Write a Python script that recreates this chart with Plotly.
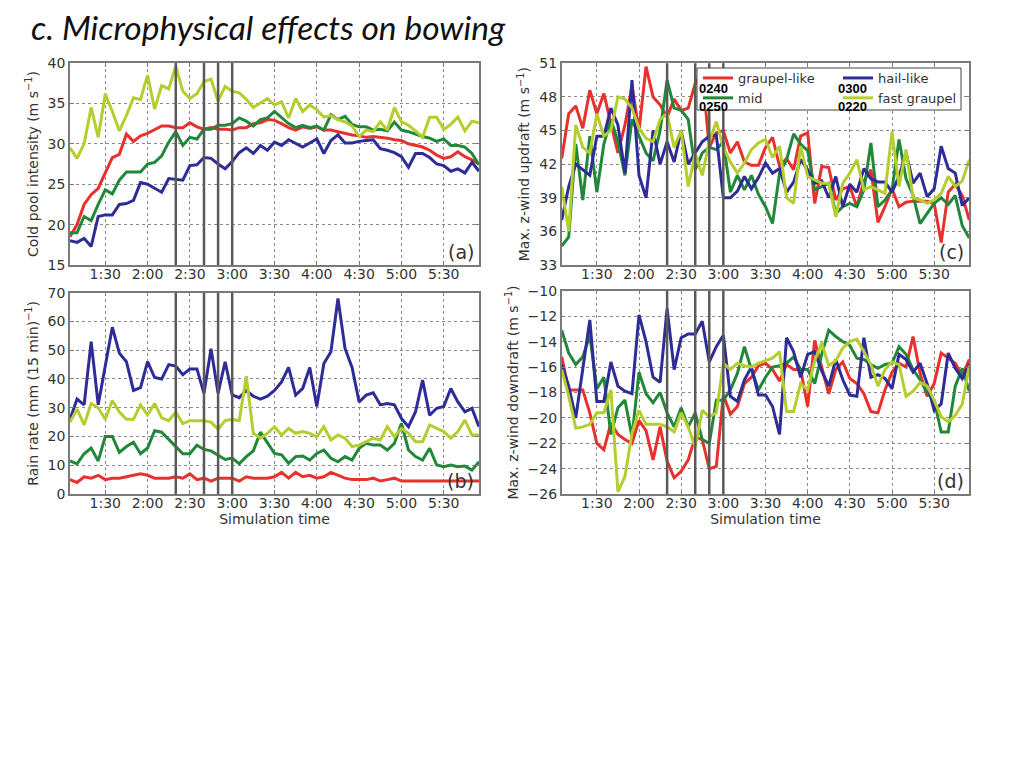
import plotly.graph_objects as go

# ---------------- data ----------------
times = list(range(65, 360, 5))  # simulation minutes, 1:05 .. 5:55
tick_vals = [90, 120, 150, 180, 210, 240, 270, 300, 330]
tick_text = ["1:30", "2:00", "2:30", "3:00", "3:30", "4:00", "4:30", "5:00", "5:30"]
marker_times = [140, 160, 170, 180]  # 0220, 0240, 0250, 0300
series_names = ["graupel-like", "mid", "hail-like", "fast graupel"]

# (a) cold pool intensity
a_red = [18.5, 20.0, 22.5, 23.7, 24.5, 26.5, 28.3, 28.7, 31.2, 30.3,
         31.0, 31.3, 31.8, 32.2, 32.2, 32.0, 32.0, 32.6, 32.1, 31.8,
         32.0, 31.8, 31.8, 31.7, 32.0, 32.0, 32.5, 32.6, 33.0, 32.9,
         32.5, 32.0, 31.7, 32.1, 31.9, 32.1, 31.7, 31.7, 31.5, 31.3,
         31.1, 31.0, 30.8, 30.9, 30.8, 30.7, 30.5, 30.4, 30.0, 29.8,
         29.6, 29.2, 28.6, 28.2, 28.4, 29.0, 28.4, 28.0, 27.5]
a_green = [19.0, 19.0, 21.0, 20.5, 22.5, 24.3, 23.8, 25.5, 26.5, 26.5,
           26.5, 27.5, 27.7, 28.5, 30.2, 31.5, 29.8, 30.8, 30.6, 31.8,
           31.8, 32.3, 32.3, 32.5, 33.2, 32.8, 32.2, 33.0, 33.2, 34.0,
           33.2, 32.5, 32.0, 32.3, 32.0, 32.2, 31.7, 33.6, 33.0, 33.4,
           32.4, 32.1, 32.1, 31.7, 31.8, 31.6, 32.7, 31.7, 31.5, 31.2,
           30.9, 30.7, 30.3, 30.6, 29.8, 29.8, 29.6, 28.8, 27.4]
a_blue = [18.0, 17.8, 18.3, 17.3, 21.0, 21.2, 21.2, 22.5, 22.6, 23.0,
          25.2, 25.0, 24.5, 24.0, 25.7, 25.6, 25.5, 27.3, 27.4, 28.3,
          28.2, 27.5, 26.9, 27.8, 28.9, 29.5, 28.8, 29.8, 29.2, 30.2,
          29.8, 30.5, 30.1, 29.6, 30.1, 30.6, 28.8, 30.4, 31.1, 30.1,
          30.1, 30.3, 30.4, 30.5, 29.4, 29.2, 28.9, 28.4, 27.1, 28.8,
          28.8, 28.3, 27.5, 27.3, 26.6, 26.9, 26.4, 27.7, 26.6]
a_yellow = [29.5, 28.2, 30.0, 34.5, 30.8, 36.2, 34.0, 31.6, 33.5, 35.7,
            35.5, 38.5, 34.3, 37.2, 36.8, 39.6, 36.5, 35.6, 36.2, 37.7,
            38.0, 35.3, 37.1, 36.5, 36.3, 35.5, 34.5, 35.0, 35.6, 34.8,
            35.2, 33.2, 35.6, 34.0, 34.8, 34.2, 33.3, 33.5, 33.0, 32.7,
            32.2, 30.9, 31.7, 31.5, 32.7, 31.7, 34.5, 32.7, 32.3, 31.6,
            30.8, 33.3, 33.3, 31.8, 32.4, 33.3, 31.6, 32.8, 32.6]

# (b) rain rate
b_red = [5.0, 4.0, 6.0, 5.5, 6.5, 5.0, 5.5, 5.5, 6.0, 6.5,
         7.0, 6.5, 5.5, 5.5, 5.5, 6.0, 5.5, 7.0, 5.0, 5.5,
         4.5, 5.5, 5.5, 5.5, 4.5, 6.0, 5.5, 5.5, 5.5, 6.0,
         7.5, 5.5, 7.5, 6.0, 6.5, 5.5, 6.0, 7.5, 6.5, 5.5,
         5.0, 5.0, 5.0, 5.5, 4.5, 5.0, 5.5, 4.5, 4.5, 4.5,
         4.5, 4.5, 4.5, 4.5, 4.5, 4.5, 4.5, 4.5, 4.5]
b_green = [11.5, 10.5, 14.0, 16.0, 11.5, 20.0, 20.0, 14.5, 16.5, 18.0,
           14.0, 16.0, 22.0, 21.5, 19.0, 16.5, 14.0, 14.0, 17.0, 15.5,
           15.0, 13.5, 12.0, 12.5, 10.5, 13.0, 15.0, 21.5, 17.6, 14.1,
           13.6, 10.7, 13.0, 13.2, 11.8, 14.1, 15.3, 12.4, 11.2, 13.0,
           11.8, 15.9, 17.6, 17.0, 17.0, 15.3, 17.6, 24.6, 15.3, 13.0,
           11.8, 15.9, 10.1, 9.5, 10.1, 9.5, 9.7, 8.3, 11.2]
b_blue = [26.0, 33.0, 31.0, 53.0, 31.0, 45.0, 58.0, 49.0, 46.0, 36.0,
          37.0, 46.0, 40.5, 40.0, 45.0, 44.5, 41.5, 43.5, 43.5, 35.0,
          50.5, 35.0, 46.0, 34.5, 33.5, 36.0, 34.0, 33.0, 34.0, 36.0,
          39.0, 44.0, 34.4, 36.7, 44.0, 30.4, 45.4, 49.5, 68.0, 50.6,
          44.0, 32.0, 34.4, 35.2, 31.0, 31.5, 31.0, 26.3, 23.4, 28.6,
          39.6, 27.4, 29.8, 30.4, 36.7, 32.0, 28.6, 29.8, 23.4]
b_yellow = [25.0, 29.5, 24.0, 31.5, 30.0, 26.0, 32.5, 28.5, 26.0, 26.0,
            31.0, 27.5, 31.5, 26.5, 25.5, 28.5, 24.5, 25.5, 25.5, 25.5,
            25.0, 22.5, 25.5, 26.0, 25.5, 41.0, 21.1, 19.4, 21.1, 23.4,
            20.5, 22.8, 21.1, 21.7, 21.1, 19.9, 23.4, 18.8, 20.5, 19.4,
            16.5, 17.0, 18.2, 19.4, 18.8, 23.4, 19.9, 22.8, 21.1, 18.2,
            18.2, 24.0, 22.8, 21.7, 19.4, 21.7, 25.7, 20.5, 20.5]

# (c) max updraft
c_red = [42.5, 46.5, 47.2, 45.2, 48.6, 46.5, 48.3, 45.5, 43.0, 45.5,
         49.0, 45.0, 50.7, 48.0, 47.3, 46.2, 47.8, 46.8, 47.0, 49.2,
         50.2, 43.5, 44.8, 45.0, 43.0, 44.0, 42.2, 41.9, 41.9, 43.5,
         44.4, 41.8, 42.5, 41.5, 44.5, 44.8, 38.5, 41.8, 41.7, 38.8,
         39.8, 40.0, 38.2, 40.5, 41.5, 36.8, 38.2, 39.8, 38.2, 38.6,
         38.7, 38.7, 38.7, 38.5, 35.0, 39.5, 40.2, 39.2, 37.0]
c_green = [34.7, 35.5, 43.8, 38.8, 44.5, 39.5, 43.8, 46.0, 44.0, 41.0,
           46.0, 44.5, 43.0, 42.3, 45.0, 49.5, 47.0, 46.8, 46.0, 41.5,
           43.0, 43.5, 43.3, 44.0, 39.5, 41.0, 39.7, 41.0, 39.3, 38.2,
           36.7, 41.2, 42.4, 44.7, 43.8, 43.2, 39.7, 40.0, 40.3, 37.6,
           38.2, 38.5, 38.2, 39.7, 43.9, 38.2, 38.8, 39.7, 44.2, 40.7,
           39.2, 36.7, 37.6, 38.5, 39.0, 38.4, 39.2, 36.5, 35.4]
c_blue = [37.0, 40.0, 42.0, 41.5, 41.0, 44.5, 44.5, 47.0, 45.5, 41.2,
          49.5, 41.0, 39.0, 45.0, 42.0, 44.0, 42.2, 45.0, 42.0, 43.0,
          44.0, 44.5, 44.6, 39.0, 39.0, 39.6, 40.9, 39.8, 40.8, 42.1,
          41.2, 41.6, 39.5, 40.4, 42.4, 41.5, 40.3, 40.5, 39.0, 40.9,
          38.2, 40.2, 39.5, 41.6, 40.7, 40.4, 40.4, 39.5, 40.9, 43.0,
          40.3, 41.2, 39.1, 39.8, 43.6, 41.6, 41.2, 38.3, 39.0]
c_yellow = [40.0, 36.0, 45.5, 43.5, 43.0, 46.5, 44.5, 45.0, 48.0, 47.8,
            47.0, 45.2, 44.3, 44.0, 46.0, 46.5, 43.5, 45.0, 40.0, 43.0,
            41.0, 44.0, 45.8, 43.5, 42.2, 41.2, 42.1, 43.3, 43.9, 44.2,
            42.6, 43.6, 39.0, 38.5, 43.6, 40.9, 40.6, 40.3, 40.3, 37.3,
            40.3, 41.2, 42.4, 39.7, 40.0, 39.7, 39.4, 44.9, 40.0, 43.3,
            39.0, 38.8, 38.5, 38.8, 39.4, 40.9, 40.0, 40.5, 42.4]

# (d) max downdraft
d_red = [-15.2, -17.8, -17.8, -17.8, -19.6, -22.0, -22.5, -20.4, -21.3, -21.7,
         -22.0, -20.2, -21.0, -23.3, -20.7, -23.4, -24.7, -24.2, -23.3, -21.5,
         -21.7, -24.0, -23.8, -18.2, -19.7, -19.1, -17.3, -16.8, -15.9, -15.7,
         -16.2, -17.1, -15.8, -16.2, -16.2, -19.1, -13.9, -16.0, -18.1, -16.2,
         -15.6, -16.9, -17.3, -18.1, -19.5, -19.6, -17.8, -16.4, -15.7, -16.0,
         -13.6, -16.5, -18.3, -17.3, -14.9, -15.3, -15.7, -16.7, -15.4]
d_green = [-13.1, -14.9, -15.8, -15.2, -13.5, -17.7, -16.8, -21.3, -19.2, -18.6,
           -21.5, -16.4, -18.1, -18.8, -18.0, -19.6, -20.7, -19.2, -20.7, -19.6,
           -21.7, -22.0, -18.6, -18.6, -17.8, -16.5, -14.4, -16.2, -17.8, -16.8,
           -16.0, -15.9, -15.7, -15.2, -16.2, -16.2, -17.3, -15.0, -13.1, -13.6,
           -14.0, -14.3, -15.3, -15.4, -15.8, -16.1, -15.8, -15.7, -14.4, -15.0,
           -16.2, -17.0, -18.0, -18.6, -21.1, -21.1, -17.5, -16.1, -17.9]
d_blue = [-15.8, -17.5, -20.0, -16.0, -12.3, -18.7, -18.7, -15.6, -17.5, -17.9,
          -18.1, -11.9, -14.0, -16.8, -17.2, -11.4, -16.2, -13.7, -13.4, -13.4,
          -12.4, -15.6, -14.4, -13.5, -18.3, -18.7, -17.0, -16.0, -18.2, -18.2,
          -19.1, -21.3, -13.7, -14.8, -16.8, -15.0, -14.8, -16.3, -17.5, -15.4,
          -17.0, -18.2, -18.3, -13.7, -16.8, -16.6, -16.9, -17.7, -15.0, -15.4,
          -16.4, -15.7, -17.3, -19.4, -18.9, -14.9, -16.1, -16.9, -15.8]
d_yellow = [-16.2, -18.3, -20.8, -20.7, -20.5, -19.6, -19.6, -17.8, -25.8, -24.6,
            -21.2, -19.4, -20.5, -20.5, -20.5, -20.7, -21.1, -19.6, -20.7, -22.3,
            -19.4, -19.9, -19.6, -15.7, -16.2, -15.7, -15.9, -16.0, -15.7, -15.5,
            -15.3, -14.8, -19.5, -19.5, -17.3, -17.8, -15.5, -14.1, -15.9, -15.5,
            -14.5, -14.0, -13.8, -14.8, -15.8, -17.5, -16.2, -15.6, -15.8, -18.3,
            -17.9, -17.2, -17.5, -18.6, -19.9, -20.3, -19.8, -18.9, -15.9]

panels = [
    ("x", "y", [a_red, a_green, a_blue, a_yellow]),
    ("x2", "y2", [b_red, b_green, b_blue, b_yellow]),
    ("x3", "y3", [c_red, c_green, c_blue, c_yellow]),
    ("x4", "y4", [d_red, d_green, d_blue, d_yellow]),
]

# ---------------- style ----------------
colors = ["#e8302c", "#21883a", "#2e2c96", "#b6cd2e"]
legend_of = ["legend", "legend", "legend2", "legend2"]
W, H = 1008, 750
FONT = "DejaVu Sans"


def xd(px):
    return (px - 8) / W


def yd(py):
    return 1 - (py - 8) / H


fig = go.Figure()
for pi, (xa, ya, series) in enumerate(panels):
    for si, vals in enumerate(series):
        fig.add_trace(go.Scatter(
            x=times, y=vals, xaxis=xa, yaxis=ya, mode="lines",
            name=series_names[si], line=dict(color=colors[si], width=3),
            showlegend=(pi == 2), legend=legend_of[si],
        ))

axis_common = dict(
    showgrid=True, gridcolor="#8a8a8a", griddash="dot", gridwidth=1,
    showline=True, mirror="ticks", linecolor="#7a7a7a", linewidth=1.5,
    ticks="inside", ticklen=4, tickcolor="#7a7a7a", zeroline=False,
    automargin=False,
    tickfont=dict(family=FONT, size=14, color="#333333"),
)

xa_left = [xd(70), xd(479)]
xa_right = [xd(561.7), xd(969.3)]

x_common = dict(axis_common, range=[65, 355], tickmode="array",
                tickvals=tick_vals, ticktext=tick_text, ticklabelstandoff=-5)

title_font = dict(family=FONT, size=14, color="#333333")
leg_font = dict(family=FONT, size=13, color="#333333")

fig.update_layout(
    width=W, height=H, margin=dict(l=0, r=0, t=0, b=0, autoexpand=False),
    paper_bgcolor="white", plot_bgcolor="white",
    xaxis=dict(x_common, domain=xa_left, anchor="y"),
    yaxis=dict(axis_common, domain=[yd(265), yd(63)], anchor="x", range=[15, 40], dtick=5,
               title=dict(text="Cold pool intensity (m s<sup>−1</sup>)", font=title_font, standoff=6)),
    xaxis2=dict(x_common, domain=xa_left, anchor="y2",
                title=dict(text="Simulation time", font=title_font, standoff=2)),
    yaxis2=dict(axis_common, domain=[yd(494), yd(292.7)], anchor="x2", range=[0, 70], dtick=10,
                title=dict(text="Rain rate (mm (15 min)<sup>−1</sup>)", font=title_font, standoff=6)),
    xaxis3=dict(x_common, domain=xa_right, anchor="y3"),
    yaxis3=dict(axis_common, domain=[yd(265), yd(63.3)], anchor="x3", range=[33, 51], dtick=3,
                title=dict(text="Max. z-wind updraft (m s<sup>−1</sup>)", font=title_font, standoff=6)),
    xaxis4=dict(x_common, domain=xa_right, anchor="y4",
                title=dict(text="Simulation time", font=title_font, standoff=2)),
    yaxis4=dict(axis_common, domain=[yd(494.3), yd(290.7)], anchor="x4", range=[-26, -10], dtick=2,
                title=dict(text="Max. z-wind downdraft (m s<sup>−1</sup>)", font=title_font, standoff=6)),
    legend=dict(x=xd(698), y=yd(63), xanchor="left", yanchor="top", orientation="v",
                bgcolor="rgba(0,0,0,0)", borderwidth=0, font=leg_font, itemwidth=30,
                tracegroupgap=0),
    legend2=dict(x=xd(838), y=yd(63), xanchor="left", yanchor="top", orientation="v",
                 bgcolor="rgba(0,0,0,0)", borderwidth=0, font=leg_font, itemwidth=30,
                 tracegroupgap=0),
)

# vertical marker lines + legend frame
shapes = []
for xa, ya in [("x", "y"), ("x2", "y2"), ("x3", "y3"), ("x4", "y4")]:
    for t in marker_times:
        shapes.append(dict(type="line", xref=xa, yref=f"{ya} domain", x0=t, x1=t, y0=0, y1=1,
                           line=dict(color="#5a5a5a", width=2.5), layer="above"))
shapes.append(dict(type="rect", xref="paper", yref="paper", x0=xd(697), x1=xd(961),
                   y0=yd(110), y1=yd(68), fillcolor="white",
                   line=dict(color="#444444", width=1), layer="above"))
fig.update_layout(shapes=shapes)

annotations = []
for lbl, xa, ya in [("(a)", "x", "y"), ("(b)", "x2", "y2"), ("(c)", "x3", "y3"), ("(d)", "x4", "y4")]:
    annotations.append(dict(text=lbl, xref=f"{xa} domain", yref=f"{ya} domain", x=1, y=0,
                            xanchor="right", yanchor="bottom", xshift=-3, yshift=0, showarrow=False,
                            font=dict(family=FONT, size=19, color="#333333")))

annotations.append(dict(text="<i>c. Microphysical effects on bowing</i>", xref="paper", yref="paper",
                        x=xd(29), y=yd(27), xanchor="left", yanchor="middle", showarrow=False,
                        font=dict(family="Lato", size=33.5, color="#111111")))

for txt, cx, cy in [("0240", 713, 89), ("0250", 713, 106), ("0300", 852, 89), ("0220", 852, 106)]:
    annotations.append(dict(text=f"<b>{txt}</b>", xref="paper", yref="paper", x=xd(cx), y=yd(cy),
                            xanchor="center", yanchor="middle", showarrow=False,
                            font=dict(family="Liberation Sans", size=13, color="black")))
fig.update_layout(annotations=annotations)

fig.write_html("out.html")
